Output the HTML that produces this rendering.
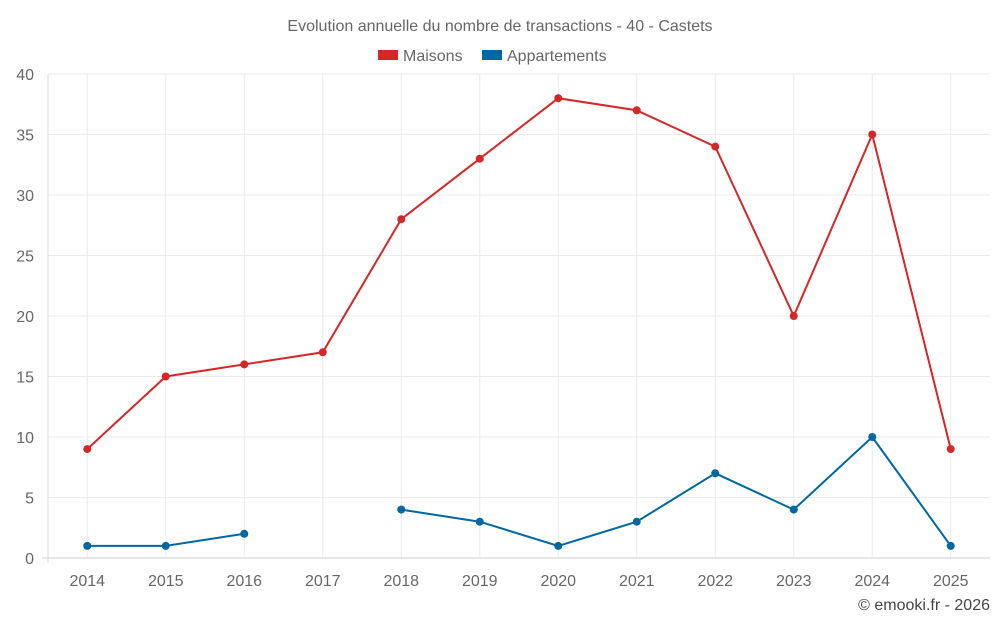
<!DOCTYPE html>
<html><head><meta charset="utf-8"><style>
body{margin:0;background:#fff;font-family:"Liberation Sans",sans-serif}
svg text{font-family:"Liberation Sans",sans-serif}
</style></head><body>
<svg id="c" width="1000" height="625">
<text x="500" y="31" text-anchor="middle" font-size="16" fill="#666">Evolution annuelle du nombre de transactions - 40 - Castets</text>
<g>
<g><rect x="378" y="50" width="20" height="10" fill="#d62728"/><text x="403" y="61" font-size="16" fill="#666">Maisons</text></g>
<g><rect x="482" y="50" width="20" height="10" fill="#0068a0"/><text x="507" y="61" font-size="16" fill="#666">Appartements</text></g>
</g>
<g id="grid"></g><g id="axes"></g><g id="series"></g>
<text x="990" y="610" text-anchor="end" font-size="16" fill="#444">© emooki.fr - 2026</text>
</svg>
<script>
const years=[2014,2015,2016,2017,2018,2019,2020,2021,2022,2023,2024,2025];
const maisons=[9,15,16,17,28,33,38,37,34,20,35,9];
const appartements=[1,1,2,null,4,3,1,3,7,4,10,1];
const yTicks=[0,5,10,15,20,25,30,35,40];
const NS='http://www.w3.org/2000/svg';
const x0=48,x1=990,y0=558,y1=74;
const step=(x1-x0)/years.length;
const X=i=>x0+step*(i+0.5);
const Y=v=>y0-(v/40)*(y0-y1);
function mk(t,a,p){const e=document.createElementNS(NS,t);for(const k in a)e.setAttribute(k,a[k]);p.appendChild(e);return e;}
const grid=document.getElementById('grid'),axes=document.getElementById('axes'),ser=document.getElementById('series');
yTicks.forEach(v=>{
 const l=mk('line',{x1:v===0?x0-6:x0,x2:x1,y1:Y(v),y2:Y(v),stroke:v===0?'#ccc':'#ebebeb'},grid);
 
 
 const t=mk('text',{x:34,y:Y(v)+6,'text-anchor':'end','font-size':16,fill:'#666'},axes);
 t.textContent=v;
 
 
});
const la=mk('line',{x1:x0,x2:x0,y1:y1,y2:y0+5,stroke:'#ddd'},grid);


years.forEach((y,i)=>{
 const l=mk('line',{x1:X(i),x2:X(i),y1:y1,y2:y0,stroke:'#ebebeb'},grid);
 
 
 const t=mk('text',{x:X(i),y:586,'text-anchor':'middle','font-size':16,fill:'#666'},axes);
 t.textContent=y;
 
 
});
function draw(data,color,name){
 let segs=[],cur=[];
 data.forEach((v,i)=>{if(v==null){if(cur.length)segs.push(cur);cur=[];}else cur.push([X(i),Y(v)]);});
 if(cur.length)segs.push(cur);
 segs.forEach(s=>{
  const p=mk('polyline',{points:s.map(q=>q.join(',')).join(' '),fill:'none',stroke:color,'stroke-width':2},ser);
  
  
 });
 data.forEach((v,i)=>{if(v==null)return;
  const c=mk('circle',{cx:X(i),cy:Y(v),r:4,fill:color},ser);
  
  
 });
}
draw(maisons,'#d62728','maisons');
draw(appartements,'#0068a0','appartements');
</script>
</body></html>
